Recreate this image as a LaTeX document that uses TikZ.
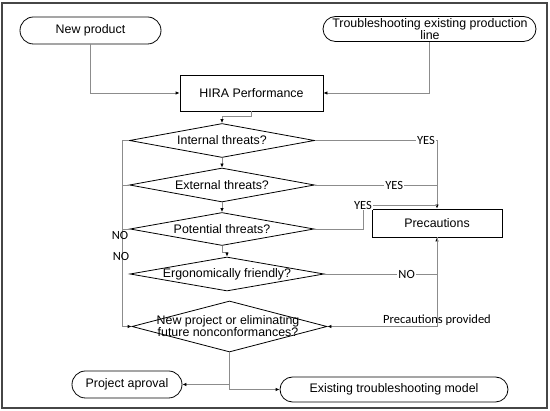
\documentclass[tikz,border=0pt]{standalone}
\usepackage{fontspec}
\setmainfont{Liberation Sans}
\newfontfamily\lblfont{Carlito}
\usetikzlibrary{arrows.meta,shapes.geometric}
\definecolor{lc}{RGB}{140,140,140}
\definecolor{fc}{RGB}{70,70,70}
\begin{document}
\begin{tikzpicture}[x=1pt,y=-1pt,
  font=\fontsize{12.4}{10.5}\selectfont,
  box/.style={draw=black, line width=0.8pt, inner sep=0pt, align=center},
  dia/.style={draw=black, line width=0.8pt, diamond, inner sep=0pt},
  dtext/.style={inner sep=0pt, align=center},
  conn/.style={draw=lc, line width=0.8pt, -{Latex[length=4pt,width=3.5pt,color=black]}},
  cline/.style={draw=lc, line width=0.8pt},
  lbl/.style={font=\lblfont\fontsize{12.5}{13}\selectfont, inner sep=1pt, fill=white},
  nolbl/.style={font=\lblfont\fontsize{12.5}{13}\selectfont, inner sep=0pt}]
\useasboundingbox (0,0) rectangle (550,411);
\draw[line width=1.5pt, draw=fc] (2,3) rectangle (547,408);

% terminals and boxes
\node[box, rounded corners=13.5pt, minimum width=141pt, minimum height=27pt] (np) at (90.5,30.5) {New product};
\node[box, rounded corners=12.5pt, minimum width=213pt, minimum height=25pt] (ts) at (429.5,29) {};
\node[dtext] (tst) at (430,29) {Troubleshooting existing production\\[-1pt]line};
\node[box, minimum width=143pt, minimum height=36pt] (hira) at (251.5,93) {HIRA Performance};
\node[box, minimum width=130pt, minimum height=28pt] (prec) at (437,223) {Precautions};
\node[box, rounded corners=13.5pt, minimum width=110pt, minimum height=27pt] (pa) at (127,384.5) {Project aproval};
\node[box, rounded corners=12.5pt, minimum width=228pt, minimum height=25pt] (ex) at (394,389.5) {Existing troubleshooting model};

% decisions
\node[dia, minimum width=185pt, minimum height=34pt] (int) at (222,140.5) {};
\node[dtext] (intt) at (int) {Internal threats?};
\node[dia, minimum width=185pt, minimum height=34pt] (ext) at (222,185) {};
\node[dtext] (extt) at (ext) {External threats?};
\node[dia, minimum width=184pt, minimum height=33pt] (pot) at (222,229) {};
\node[dtext] (pott) at (pot) {Potential threats?};
\node[dia, minimum width=194pt, minimum height=34pt] (ergo) at (227,274) {};
\node[dtext] (ergot) at (ergo) {Ergonomically friendly?};
\node[dia, minimum width=195pt, minimum height=51pt] (newp) at (229.5,326.5) {};
\node[dtext] (newpt) at (228,326) {New project or eliminating\\[-1pt]future nonconformances?};

% top connectors
\draw[conn] (np) |- (hira);
\draw[conn] (ts) |- (hira);
\draw[conn] (hira.south) -- ++(0,5.5) -| (int.north);
\draw[conn] (int) -- (ext);
\draw[conn] (ext) -- (pot);
\draw[conn] (pot.south) -- ++(0,6.5) -| (ergo.north);

% YES branches
\draw[conn] (int.east) -- node[lbl,pos=0.91] (y1) {YES} (int.east -| prec.north) -- (prec.north);
\draw[cline] (ext.east) -- node[lbl,pos=0.65] (y2) {YES} (ext.east -| prec.north);
\coordinate (yc) at (363,205);
\draw[cline] (pot.east) -| (yc) -- (yc -| prec.north);
\node[lbl] (y3) at (yc) {YES};

% NO branch right and precautions provided
\draw[conn] (ergo.east) -- node[lbl,pos=0.73] (n1) {NO} (ergo.east -| prec.south) -- (prec.south);
\draw[conn] (prec.south) |- node[pos=0.5, anchor=base, yshift=3pt, inner sep=0pt, font=\lblfont\fontsize{12.5}{13}\selectfont] (pp) {Precautions provided} (newp.east);

% NO branch left
\coordinate (lx) at (122,140.5);
\draw[conn] (int.west) -- (lx) |- (newp.west);
\draw[cline] (ext.west) -- (ext.west -| lx);
\draw[cline] (pot.west) -- (pot.west -| lx);
\node[nolbl] (n2) at (120,235) {NO};
\node[nolbl] (n3) at (121,256) {NO};

% bottom
\draw[conn] (newp.south) |- (ex.west);
\draw[conn] (newp.south |- pa.east) -- (pa.east);
\end{tikzpicture}
\end{document}
